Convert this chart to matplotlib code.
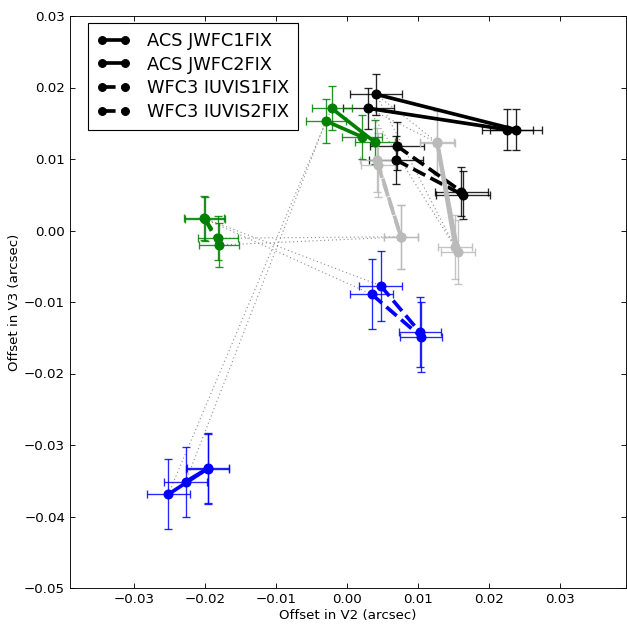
import matplotlib
matplotlib.use('Agg')
import matplotlib.pyplot as plt
from matplotlib.lines import Line2D

# Chips (one line per chip and epoch)
chips = ['ACS JWFC1FIX', 'ACS JWFC2FIX', 'WFC3 IUVIS1FIX', 'WFC3 IUVIS2FIX']
epochs = ['black', 'gray', 'green', 'blue']

# Offsets (arcsec): [start, end] for each chip, per epoch
v2 = {
    'black': [[0.00409, 0.02381], [0.00300, 0.02258], [0.00704, 0.01613], [0.00690, 0.01634]],
    'gray':  [[0.01268, 0.01522], [0.01275, 0.01564], [0.00423, 0.00760], [0.00437, 0.00760]],
    'green': [[-0.00216, 0.00395], [-0.00296, 0.00207], [-0.02010, -0.01821], [-0.02000, -0.01799]],
    'blue':  [[-0.02517, -0.01962], [-0.02272, -0.01958], [0.00474, 0.01028], [0.00348, 0.01042]],
}
v3 = {
    'black': [[0.01905, 0.01410], [0.01709, 0.01410], [0.01182, 0.00545], [0.00986, 0.00497]],
    'gray':  [[0.01234, -0.00231], [0.01224, -0.00301], [0.00986, -0.00087], [0.00916, -0.00091]],
    'green': [[0.01709, 0.01234], [0.01531, 0.01312], [0.00171, -0.00109], [0.00161, -0.00203]],
    'blue':  [[-0.03690, -0.03331], [-0.03513, -0.03326], [-0.00772, -0.01424], [-0.00892, -0.01485]],
}
# errores por chip
v2_err = {
    'black': [0.0036, 0.0036, 0.0038, 0.0038],
    'gray':  [0.0024, 0.0024, 0.0024, 0.0024],
    'green': [0.0028, 0.0028, 0.0028, 0.0028],
    'blue':  [0.0030, 0.0030, 0.0030, 0.0030],
}
v3_err = {
    'black': [0.0029, 0.0029, 0.0034, 0.0034],
    'gray':  [0.0045, 0.0045, 0.0045, 0.0045],
    'green': [0.0031, 0.0031, 0.0031, 0.0031],
    'blue':  [0.0049, 0.0049, 0.0049, 0.0049],
}

# dotted links: (epoch, chip, point) -> (epoch, chip, point)
links = [
    ('blue', 0, 0, 'green', 0, 0),
    ('blue', 1, 0, 'green', 1, 0),
    ('green', 2, 0, 'blue', 2, 0),
    ('green', 3, 0, 'blue', 3, 0),
    ('green', 2, 1, 'gray', 2, 1),
    ('green', 3, 1, 'gray', 3, 1),
    ('black', 0, 0, 'gray', 0, 0),
    ('black', 1, 0, 'gray', 1, 0),
    ('black', 0, 0, 'gray', 0, 1),
    ('black', 1, 0, 'gray', 1, 1),
]

colores = {'black': 'k', 'gray': '0.73', 'green': 'g', 'blue': 'b'}
estilos = ['-', '-', '--', '--']

fig = plt.figure(figsize=(627 / 80, 625 / 80), dpi=80)
ax = fig.add_axes([70 / 627, 1 - 588 / 625, 556 / 627, 572 / 625])

# lineas punteadas entre epocas
for ea, ca, pa, eb, cb, pb in links:
    ax.plot([v2[ea][ca][pa], v2[eb][cb][pb]], [v3[ea][ca][pa], v3[eb][cb][pb]],
            color='0.55', lw=1, ls=(0, (1, 2.5)), zorder=1)

for ep in epochs:
    c = colores[ep]
    for i in range(len(chips)):
        ax.errorbar(v2[ep][i], v3[ep][i], xerr=v2_err[ep][i], yerr=v3_err[ep][i],
                    fmt='none', ecolor=c, elinewidth=1.2, capsize=3.5, capthick=1.2,
                    alpha=0.85, zorder=2)
        ax.plot(v2[ep][i], v3[ep][i], ls=estilos[i], color=c, lw=3.3,
                marker='o', ms=8, mec=c, zorder=3)

handles = [Line2D([], [], color='k', ls=estilos[i], lw=3.3, marker='o', ms=7)
           for i in range(len(chips))]
leg = ax.legend(handles, chips, loc='upper left', bbox_to_anchor=(0.032, 0.988),
                borderaxespad=0, numpoints=2, fontsize=16, fancybox=False,
                framealpha=1, handlelength=1.9, labelspacing=0.33, handletextpad=0.95,
                borderpad=0.5)
leg.get_frame().set_edgecolor('k')

ax.set_xlim(-0.03901, 0.03930)
ax.set_ylim(-0.05, 0.03)
ax.set_xticks([-0.03, -0.02, -0.01, 0.0, 0.01, 0.02, 0.03])
ax.set_yticks([-0.05, -0.04, -0.03, -0.02, -0.01, 0.0, 0.01, 0.02, 0.03])
ax.tick_params(direction='in', top=True, right=True, labelsize=12, length=4.5, pad=4.5)
ax.set_xlabel('Offset in V2 (arcsec)', fontsize=12, labelpad=3)
ax.set_ylabel('Offset in V3 (arcsec)', fontsize=12, labelpad=3)

plt.savefig('out.png', dpi=80, facecolor='white')
plt.close()
